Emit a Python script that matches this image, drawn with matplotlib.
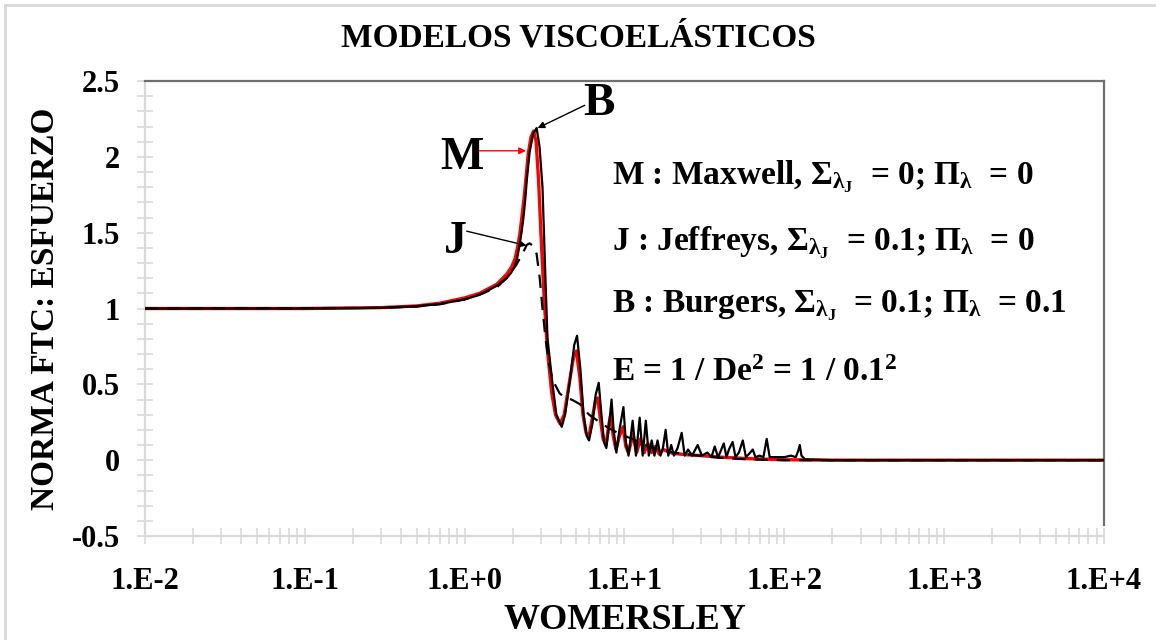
# Modelos viscoelásticos: norma FTC del esfuerzo vs número de Womersley

import matplotlib
matplotlib.use('Agg')
import matplotlib.pyplot as plt
from matplotlib.lines import Line2D
from matplotlib.ticker import LogLocator, MultipleLocator, NullFormatter

# 1. datos
# Burgers (B), línea negra continua
wo_b = [0.01, 0.1, 0.2, 0.3, 0.5, 0.7, 1.0, 1.24, 1.59, 1.83, 1.95, 2.05, 2.13, 2.2,
        2.27, 2.34, 2.4, 2.45, 2.55, 2.68, 2.82, 2.94, 3.07, 3.2, 3.3, 3.55, 3.75, 4.05,
        4.25, 4.55, 4.85, 5.05, 5.3, 5.55, 5.8, 6.0, 6.3, 6.6, 6.9, 7.15, 7.45, 7.7, 8.0,
        8.3, 8.55, 8.9, 9.3, 9.85, 10.2, 10.6, 11.25, 11.8, 12.45, 13.0, 13.6, 14.2,
        14.8, 15.4, 16.1, 16.8, 17.4, 18.1, 18.8, 19.6, 20.4, 21.5, 22.8, 23.8, 25, 26.5,
        28.7, 30.5, 33, 35, 36.7, 38.5, 40, 41.8, 43.5, 45, 47.5, 49.5, 52, 55, 57.5, 60,
        63.5, 66, 70, 74, 77.6, 81, 90, 100, 110, 118, 122, 125, 128, 135, 200, 1e4]
ftc_b = [1.0, 1.0, 1.002, 1.005, 1.015, 1.03, 1.06, 1.09, 1.15, 1.2, 1.235, 1.275, 1.33,
         1.41, 1.5, 1.61, 1.73, 1.85, 2.03, 2.15, 2.19, 2.07, 1.8, 1.21, 0.8, 0.5, 0.3,
         0.22, 0.3, 0.52, 0.76, 0.82, 0.6, 0.3, 0.16, 0.13, 0.24, 0.43, 0.51, 0.32, 0.12,
         0.08, 0.22, 0.40, 0.2, 0.05, 0.2, 0.35, 0.12, 0.03, 0.26, 0.03, 0.28, 0.03, 0.26,
         0.03, 0.13, 0.03, 0.13, 0.03, 0.08, 0.20, 0.03, 0.1, 0.03, 0.08, 0.18, 0.03,
         0.07, 0.03, 0.10, 0.03, 0.05, 0.02, 0.09, 0.02, 0.06, 0.11, 0.02, 0.07, 0.12,
         0.02, 0.05, 0.13, 0.02, 0.04, 0.07, 0.02, 0.03, 0.02, 0.14, 0.02, 0.02, 0.02,
         0.03, 0.02, 0.06, 0.10, 0.03, 0.005, 0.0, 0.0]

# Maxwell (M), línea roja
wo_m = [0.01, 0.1, 0.3, 0.5, 0.7, 1.0, 1.24, 1.59, 1.83, 1.97, 2.07, 2.15, 2.22, 2.28,
        2.35, 2.41, 2.5, 2.6, 2.7, 2.8, 2.9, 3.0, 3.15, 3.3, 3.5, 3.7, 3.95, 4.2, 4.5,
        4.8, 5.0, 5.25, 5.5, 5.75, 6.0, 6.3, 6.6, 6.8, 7.05, 7.35, 7.65, 8.0, 8.2, 8.5,
        8.85, 9.3, 9.8, 10.2, 10.6, 11.3, 11.9, 12.6, 13.3, 14.0, 14.8, 15.6, 16.5, 17.5,
        20, 25, 30, 40, 60, 100, 200, 1e4]
ftc_m = [1.0, 1.0, 1.006, 1.017, 1.035, 1.07, 1.10, 1.16, 1.225, 1.275, 1.33, 1.41, 1.5,
         1.6, 1.72, 1.84, 2.02, 2.13, 2.17, 2.1, 1.85, 1.5, 1.05, 0.72, 0.45, 0.3, 0.24,
         0.3, 0.5, 0.68, 0.72, 0.55, 0.3, 0.18, 0.16, 0.28, 0.4, 0.41, 0.28, 0.14, 0.1,
         0.24, 0.3, 0.16, 0.07, 0.16, 0.22, 0.09, 0.05, 0.17, 0.05, 0.14, 0.05, 0.11,
         0.05, 0.09, 0.04, 0.07, 0.045, 0.035, 0.03, 0.02, 0.01, 0.003, 0.0, 0.0]

# Jeffreys (J), línea negra discontinua
wo_j = [0.01, 0.3, 0.5, 0.7, 1.0, 1.3, 1.59, 1.83, 2.11, 2.3, 2.45, 2.55, 2.7, 2.82,
        2.95, 3.07, 3.2, 3.35, 3.55, 3.93, 4.3, 4.66, 5.25, 6.0, 7.0, 8.0, 9.5, 11.2, 14,
        18, 22, 29, 40, 60, 100, 1e4]
ftc_j = [1.0, 1.004, 1.013, 1.028, 1.06, 1.1, 1.14, 1.2, 1.29, 1.36, 1.42, 1.43, 1.41,
         1.36, 1.2, 1.0, 0.81, 0.65, 0.53, 0.44, 0.41, 0.40, 0.37, 0.30, 0.25, 0.21,
         0.17, 0.14, 0.09, 0.06, 0.045, 0.03, 0.015, 0.005, 0.0, 0.0]

x_ticks = [1e-2, 1e-1, 1e0, 1e1, 1e2, 1e3, 1e4]
x_labels = ['1.E-2', '1.E-1', '1.E+0', '1.E+1', '1.E+2', '1.E+3', '1.E+4']
y_ticks = [-0.5, 0, 0.5, 1, 1.5, 2, 2.5]
y_labels = ['-0.5', '0', '0.5', '1', '1.5', '2', '2.5']

# 2. estilo
plt.rcParams['font.family'] = ['Liberation Serif', 'DejaVu Serif']
plt.rcParams['font.weight'] = 'bold'
plt.rcParams['mathtext.fontset'] = 'custom'
plt.rcParams['mathtext.rm'] = 'Liberation Serif:bold'
plt.rcParams['mathtext.it'] = 'Liberation Serif:bold'
plt.rcParams['mathtext.bf'] = 'Liberation Serif:bold'

fig = plt.figure(figsize=(11.56, 6.4), dpi=100)
ax = fig.add_axes([0.1254, 0.1625, 0.8296, 0.7109])

# 3. curvas
ax.plot(wo_m, ftc_m, color='red', lw=2.4, zorder=3)
ax.plot(wo_b, ftc_b, color='black', lw=1.6, zorder=4)
ax.plot(wo_j, ftc_j, color='black', lw=1.6, ls=(0, (6, 4)), zorder=5)

ax.set_xscale('log')
ax.set_xlim(1e-2, 1e4)
ax.set_ylim(-0.5, 2.5)

ax.set_xticks(x_ticks)
ax.set_xticklabels(x_labels)
ax.xaxis.set_minor_locator(LogLocator(base=10, subs=range(2, 10)))
ax.xaxis.set_minor_formatter(NullFormatter())
ax.set_yticks(y_ticks)
ax.set_yticklabels(y_labels)
ax.yaxis.set_minor_locator(MultipleLocator(0.1))

ax.tick_params(which='both', direction='inout', color='#d9d9d9', width=1.2,
               labelsize=22)
ax.tick_params(which='major', length=12)
ax.tick_params(which='minor', length=11)
ax.tick_params(axis='x', pad=16)
ax.tick_params(axis='y', pad=12)

for s in ['left', 'bottom']:
    ax.spines[s].set_color('#d9d9d9')
    ax.spines[s].set_linewidth(1.6)
for s in ['top', 'right']:
    ax.spines[s].set_color('#6f6f6f')
    ax.spines[s].set_linewidth(1.6)
ax.spines['right'].set_bounds(-0.43, 2.5)

ax.set_xlabel('WOMERSLEY', fontsize=26, fontweight='bold', labelpad=6)
ax.set_ylabel('NORMA FTC: ESFUERZO', fontsize=24, fontweight='bold', labelpad=8)
fig.text(0.5, 1 - 38 / 640, 'MODELOS VISCOELÁSTICOS', fontsize=24,
         fontweight='bold', ha='center', va='center')

# 4. etiquetas de las curvas
arrow_kw = dict(lw=1, shrinkA=0, shrinkB=0)
ax.text(0.957, 1.99, 'M', fontsize=33, ha='center', va='center')
ax.annotate('', xy=(2.42, 2.04), xytext=(1.24, 2.04),
            arrowprops=dict(arrowstyle='-|>', color='red', mutation_scale=10, **arrow_kw))
ax.text(6.89, 2.35, 'B', fontsize=34, ha='center', va='center')
ax.annotate('', xy=(2.86, 2.19), xytext=(5.64, 2.34),
            arrowprops=dict(arrowstyle='-|>', color='black', mutation_scale=10, **arrow_kw))
ax.text(0.878, 1.44, 'J', fontsize=33, ha='center', va='center')
ax.annotate('', xy=(2.44, 1.415), xytext=(1.03, 1.51),
            arrowprops=dict(arrowstyle='-|>', color='black', mutation_scale=8, **arrow_kw))

# 5. leyenda en texto
tx = 8.3
ax.text(tx, 1.87, r'M : Maxwell, $\Sigma_{\lambda_J}$  = 0; $\Pi_{\lambda}$  = 0',
        fontsize=24, va='center')
ax.text(tx, 1.435, r'J : Jeffreys, $\Sigma_{\lambda_J}$  = 0.1; $\Pi_{\lambda}$  = 0',
        fontsize=24, va='center')
ax.text(tx, 1.02, r'B : Burgers, $\Sigma_{\lambda_J}$  = 0.1; $\Pi_{\lambda}$  = 0.1',
        fontsize=24, va='center')
ax.text(tx, 0.58, r'E = 1 / De$^2$ = 1 / 0.1$^2$', fontsize=24, va='center')

# borde del área del gráfico
fig.add_artist(Line2D([5 / 1156, 1], [1 - 4.5 / 640, 1 - 4.5 / 640],
                      transform=fig.transFigure, color='#d9d9d9', lw=2))
fig.add_artist(Line2D([5 / 1156, 5 / 1156], [0, 1 - 4.5 / 640],
                      transform=fig.transFigure, color='#d9d9d9', lw=2))

fig.savefig('out.png', dpi=100)
